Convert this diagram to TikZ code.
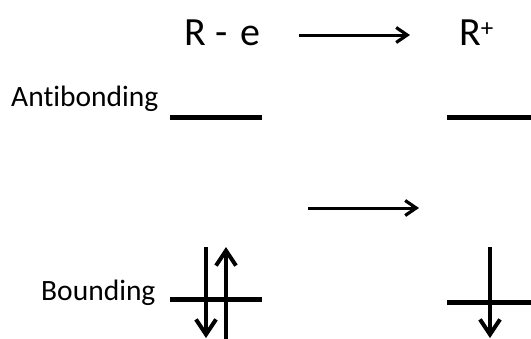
\documentclass[tikz,border=0pt]{standalone}
\usepackage{fontspec}
\setmainfont[Ligatures={NoCommon}]{Carlito}
\usetikzlibrary{arrows.meta}
\begin{document}
\begin{tikzpicture}[x=1pt,y=-1pt,
  level/.style={line width=5pt},
  spin/.style={line width=4pt,-{Straight Barb[length=15pt,width=20pt,line width=4pt]}},
  react/.style={line width=3pt,-{Straight Barb[length=11pt,width=15pt,line width=3.2pt]}},
  lbl/.style={anchor=base west,inner sep=0pt,font=\fontsize{29.5}{31}\selectfont},
  big/.style={anchor=base west,inner sep=0pt,font=\fontsize{40}{42}\selectfont}]
\useasboundingbox (0,0) rectangle (531,338);
% titles
\node[big] (re) at (184,45) {R\hspace{0.25em}-\hspace{0.3em}e};
\node[big] (rp) at (459,45) {R\raisebox{0.22em}{\fontsize{25}{27}\selectfont +}};
\node[lbl] (anti) at (11,106) {Antibonding};
\node[lbl] (bond) at (41,300) {Bounding};
% reaction arrows
\coordinate (a1) at (299,35);
\coordinate (a2) at (410,35);
\draw[react] (a1) -- (a2);
\coordinate (b1) at (308,208);
\coordinate (b2) at (419,208);
\draw[react] (b1) -- (b2);
% levels
\coordinate (la1) at (170,117); \coordinate (la2) at (262,117);
\draw[level] (la1) -- (la2);
\coordinate (ra1) at (447,117); \coordinate (ra2) at (531,117);
\draw[level] (ra1) -- (ra2);
\coordinate (lb1) at (170,299); \coordinate (lb2) at (262,299);
\draw[level] (lb1) -- (lb2);
\coordinate (rb1) at (447,302); \coordinate (rb2) at (531,302);
\draw[level] (rb1) -- (rb2);
% spins
\coordinate (s1t) at (206,247); \coordinate (s1b) at (206,338);
\draw[spin] (s1t) -- (s1b);
\coordinate (s2b) at (226,340); \coordinate (s2t) at (226,247);
\draw[spin] (s2b) -- (s2t);
\coordinate (s3t) at (490,247); \coordinate (s3b) at (490,338);
\draw[spin] (s3t) -- (s3b);
\end{tikzpicture}
\end{document}
